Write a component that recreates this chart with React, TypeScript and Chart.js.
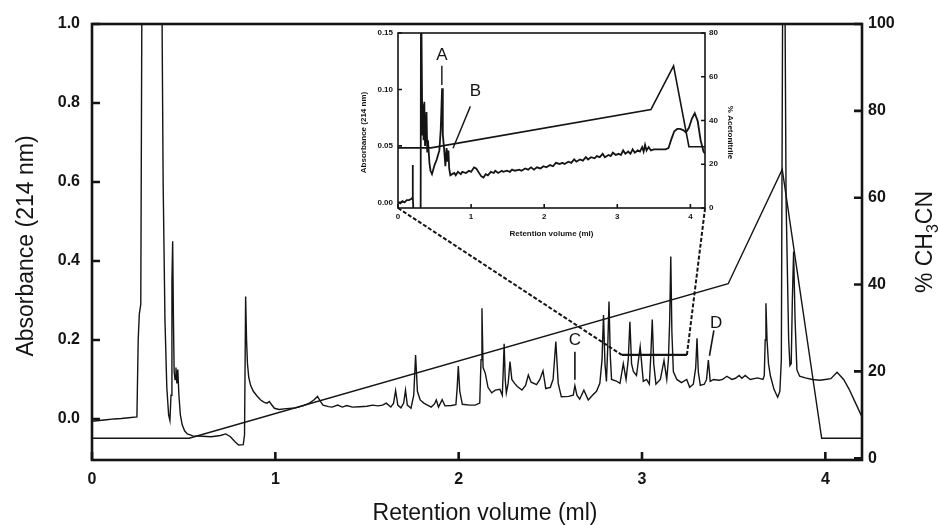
import React, { useEffect, useRef } from 'react';
import { Chart, registerables } from 'chart.js';

Chart.register(...registerables);

type Pt = [number, number];

// ---------- main chromatogram (retention ml, absorbance 214 nm) ----------
const mainTrace: Pt[] = [
  [0.0, -0.006], [0.04, -0.004], [0.08, -0.002], [0.12, 0.0], [0.16, 0.001], [0.2, 0.003], [0.245, 0.005],
  [0.252, 0.2], [0.258, 0.265], [0.266, 0.29], [0.274, 1.3], [0.378, 1.3],
  [0.388, 0.6], [0.398, 0.25], [0.408, 0.08], [0.418, 0.01], [0.425, -0.004], [0.431, 0.06], [0.436, 0.35],
  [0.44, 0.45], [0.444, 0.26], [0.448, 0.12], [0.453, 0.1], [0.458, 0.13], [0.463, 0.09], [0.468, 0.125],
  [0.474, 0.06], [0.482, 0.01], [0.492, -0.015], [0.505, -0.03], [0.52, -0.038], [0.55, -0.043], [0.6, -0.044],
  [0.65, -0.045], [0.7, -0.042], [0.73, -0.038], [0.755, -0.045], [0.78, -0.058], [0.8, -0.066], [0.825, -0.065],
  [0.832, -0.04], [0.838, 0.31], [0.843, 0.2], [0.848, 0.14], [0.855, 0.105], [0.865, 0.085], [0.88, 0.07],
  [0.9, 0.058], [0.92, 0.048], [0.94, 0.042], [0.955, 0.04], [0.967, 0.044], [0.98, 0.036], [0.995, 0.027],
  [1.02, 0.024], [1.06, 0.026], [1.11, 0.028], [1.15, 0.033], [1.186, 0.04], [1.21, 0.048], [1.23, 0.057],
  [1.245, 0.045], [1.26, 0.035], [1.29, 0.031], [1.31, 0.03], [1.34, 0.035], [1.365, 0.03], [1.39, 0.034],
  [1.42, 0.03], [1.46, 0.031], [1.5, 0.032], [1.53, 0.035], [1.56, 0.033], [1.585, 0.035], [1.605, 0.04],
  [1.63, 0.03], [1.645, 0.04], [1.656, 0.072], [1.668, 0.035], [1.685, 0.028], [1.7, 0.04], [1.71, 0.073],
  [1.72, 0.035], [1.74, 0.027], [1.755, 0.06], [1.765, 0.162], [1.775, 0.07], [1.79, 0.048], [1.81, 0.04],
  [1.85, 0.03], [1.868, 0.038], [1.878, 0.048], [1.89, 0.03], [1.91, 0.049], [1.925, 0.033], [1.96, 0.034],
  [1.985, 0.036], [1.992, 0.08], [1.998, 0.134], [2.006, 0.07], [2.02, 0.037], [2.06, 0.035], [2.09, 0.035],
  [2.115, 0.04], [2.122, 0.15], [2.127, 0.28], [2.133, 0.13], [2.145, 0.116], [2.16, 0.08], [2.18, 0.066],
  [2.2, 0.073], [2.225, 0.075], [2.238, 0.06], [2.243, 0.12], [2.248, 0.19], [2.254, 0.1], [2.26, 0.066],
  [2.27, 0.09], [2.28, 0.145], [2.29, 0.1], [2.305, 0.09], [2.32, 0.082], [2.345, 0.073], [2.365, 0.085],
  [2.38, 0.111], [2.395, 0.093], [2.425, 0.087], [2.443, 0.1], [2.46, 0.122], [2.475, 0.077], [2.5, 0.08],
  [2.515, 0.1], [2.53, 0.196], [2.543, 0.09], [2.56, 0.056], [2.6, 0.057], [2.625, 0.06], [2.634, 0.084],
  [2.645, 0.06], [2.66, 0.05], [2.683, 0.073], [2.707, 0.048], [2.73, 0.06], [2.752, 0.07], [2.77, 0.09],
  [2.782, 0.15], [2.79, 0.263], [2.798, 0.14], [2.806, 0.095], [2.813, 0.18], [2.82, 0.297], [2.827, 0.16],
  [2.834, 0.1], [2.86, 0.096], [2.88, 0.09], [2.898, 0.14], [2.913, 0.1], [2.925, 0.15], [2.934, 0.246],
  [2.943, 0.14], [2.953, 0.12], [2.97, 0.11], [2.99, 0.183], [3.007, 0.095], [3.025, 0.1], [3.04, 0.088],
  [3.048, 0.16], [3.056, 0.252], [3.064, 0.14], [3.076, 0.088], [3.1, 0.1], [3.12, 0.148], [3.135, 0.1],
  [3.144, 0.15], [3.151, 0.25], [3.157, 0.411], [3.163, 0.22], [3.171, 0.12], [3.19, 0.1], [3.215, 0.092],
  [3.244, 0.1], [3.26, 0.08], [3.28, 0.088], [3.293, 0.13], [3.3, 0.204], [3.307, 0.12], [3.318, 0.085],
  [3.34, 0.088], [3.352, 0.1], [3.362, 0.149], [3.372, 0.095], [3.39, 0.1], [3.42, 0.098], [3.44, 0.1],
  [3.463, 0.108], [3.49, 0.1], [3.51, 0.103], [3.53, 0.11], [3.545, 0.103], [3.563, 0.11], [3.59, 0.1],
  [3.63, 0.104], [3.66, 0.1], [3.667, 0.11], [3.672, 0.2], [3.676, 0.293], [3.682, 0.2], [3.69, 0.14],
  [3.7, 0.11], [3.72, 0.075], [3.74, 0.055], [3.752, 0.07], [3.76, 0.15], [3.769, 1.3], [3.777, 1.3],
  [3.786, 0.55], [3.8, 0.2], [3.807, 0.135], [3.814, 0.14], [3.82, 0.3], [3.827, 0.424], [3.835, 0.25],
  [3.845, 0.124], [3.86, 0.108], [3.89, 0.104], [3.93, 0.1], [3.97, 0.098], [4.0, 0.1], [4.03, 0.102],
  [4.064, 0.118], [4.1, 0.1], [4.13, 0.075], [4.16, 0.045], [4.2, 0.005],
];

// ---------- main gradient (% CH3CN) ----------
const mainGradient: Pt[] = [
  [0, 4.6], [0.53, 4.6], [3.47, 40.2], [3.765, 66.5], [3.98, 4.6], [4.2, 4.6],
];

// ---------- zoom window marks on the main chart ----------
const zoomWindow: Pt[] = [[2.89, 0.162], [3.245, 0.162]];
const zoomLinkLeft: Pt[] = [[1.669, 0.534], [2.89, 0.162]];
const zoomLinkRight: Pt[] = [[3.344, 0.534], [3.245, 0.162]];
const leaderC: Pt[] = [[2.634, 0.17], [2.634, 0.099]];
const leaderD: Pt[] = [[3.392, 0.224], [3.368, 0.16]];

const mainXTicks = [0, 1, 2, 3, 4];
const mainYTicks = [0, 0.2, 0.4, 0.6, 0.8, 1.0];
const mainY1Ticks = [0, 20, 40, 60, 80, 100];

// ---------- inset chromatogram ----------
const insetTrace: Pt[] = [
  [0.0, 0.0], [0.03, -0.001], [0.06, 0.001], [0.09, 0.0], [0.12, 0.002], [0.15, 0.002], [0.18, 0.003],
  [0.195, 0.004], [0.2, 0.033], [0.205, 0.005], [0.21, -0.006], [0.31, -0.006], [0.315, 0.2], [0.325, 0.2],
  [0.333, 0.06], [0.342, 0.087], [0.35, 0.055], [0.36, 0.089], [0.37, 0.05], [0.39, 0.08], [0.4, 0.045],
  [0.41, 0.055], [0.43, 0.035], [0.445, 0.028], [0.465, 0.025], [0.5, 0.033], [0.53, 0.038], [0.566, 0.046],
  [0.585, 0.065], [0.603, 0.101], [0.613, 0.06], [0.63, 0.048], [0.648, 0.032], [0.665, 0.048], [0.678, 0.036],
  [0.69, 0.046], [0.7, 0.03], [0.716, 0.024], [0.74, 0.025], [0.77, 0.026], [0.79, 0.024], [0.82, 0.027],
  [0.86, 0.025], [0.88, 0.027], [0.93, 0.026], [0.97, 0.028], [1.0, 0.027], [1.04, 0.031], [1.07, 0.03],
  [1.1, 0.027], [1.14, 0.023], [1.17, 0.022], [1.2, 0.025], [1.23, 0.024], [1.27, 0.027], [1.31, 0.026],
  [1.33, 0.028], [1.37, 0.026], [1.42, 0.028], [1.44, 0.027], [1.49, 0.028], [1.53, 0.027], [1.56, 0.029],
  [1.6, 0.028], [1.66, 0.029], [1.69, 0.028], [1.74, 0.03], [1.78, 0.029], [1.82, 0.031], [1.86, 0.029],
  [1.9, 0.031], [1.95, 0.03], [1.99, 0.032], [2.03, 0.031], [2.08, 0.033], [2.12, 0.032], [2.16, 0.035],
  [2.21, 0.034], [2.25, 0.035], [2.28, 0.034], [2.33, 0.036], [2.37, 0.035], [2.41, 0.038], [2.44, 0.036],
  [2.49, 0.038], [2.53, 0.037], [2.57, 0.04], [2.6, 0.038], [2.64, 0.04], [2.69, 0.039], [2.72, 0.041],
  [2.76, 0.04], [2.8, 0.043], [2.83, 0.04], [2.88, 0.042], [2.91, 0.041], [2.94, 0.044], [2.98, 0.042],
  [3.02, 0.043], [3.05, 0.042], [3.08, 0.046], [3.11, 0.043], [3.15, 0.045], [3.18, 0.043], [3.21, 0.047],
  [3.24, 0.044], [3.28, 0.046], [3.31, 0.045], [3.34, 0.049], [3.36, 0.045], [3.38, 0.051], [3.4, 0.046],
  [3.43, 0.049], [3.46, 0.046], [3.5, 0.047], [3.55, 0.047], [3.6, 0.047], [3.66, 0.047], [3.7, 0.048],
  [3.74, 0.056], [3.78, 0.063], [3.82, 0.065], [3.86, 0.065], [3.9, 0.064], [3.94, 0.062], [3.98, 0.066],
  [4.02, 0.074], [4.06, 0.079], [4.1, 0.072], [4.14, 0.055], [4.18, 0.045], [4.2, 0.043],
];

// ---------- inset gradient (% Acetonitrile) ----------
const insetGradient: Pt[] = [
  [0, 27.5], [0.45, 27.5], [3.46, 45], [3.77, 65], [3.98, 28], [4.2, 28],
];

const leaderA: Pt[] = [[0.6, 0.121], [0.6, 0.104]];
const leaderB: Pt[] = [[0.99, 0.085], [0.753, 0.048]];

const insetXTicks = [0, 1, 2, 3, 4];
const insetYTicks = [0, 0.05, 0.1, 0.15];
const insetY1Ticks = [0, 20, 40, 60, 80];

const FAMILY = "'Liberation Sans', Arial, Helvetica, sans-serif";
const INK = '#141414';

const toXY = (pts: Pt[]) => pts.map(([x, y]) => ({ x, y }));
const fixedTicks = (values: number[]) => (scale: any) => {
  scale.ticks = values.map((v) => ({ value: v }));
};

const frameTicksPlugin = {
  id: 'frameTicks',
  afterDatasetsDraw(chart: any, _args: any, opts: any) {
    const { ctx, chartArea: a } = chart;
    ctx.save();
    ctx.strokeStyle = INK;
    ctx.lineWidth = opts.frameWidth;
    ctx.strokeRect(a.left, a.top, a.right - a.left, a.bottom - a.top);
    ctx.lineWidth = opts.tickWidth;
    const len = opts.tickLength;
    ctx.beginPath();
    Object.keys(chart.scales).forEach((id) => {
      const s = chart.scales[id];
      s.ticks.forEach((t: any) => {
        const p = s.getPixelForValue(t.value);
        if (s.position === 'bottom') {
          ctx.moveTo(p, a.bottom);
          ctx.lineTo(p, a.bottom - len);
        } else if (s.position === 'left') {
          ctx.moveTo(a.left, p);
          ctx.lineTo(a.left + len, p);
        } else if (s.position === 'right') {
          ctx.moveTo(a.right, p);
          ctx.lineTo(a.right - len, p);
        }
      });
    });
    ctx.stroke();
    ctx.restore();
  },
};

const textPlugin = {
  id: 'textMarks',
  afterDraw(chart: any, _args: any, opts: any) {
    const { ctx, chartArea: a } = chart;
    ctx.save();
    ctx.fillStyle = INK;
    (opts.labels || []).forEach((l: any) => {
      ctx.font = l.font;
      ctx.textAlign = 'center';
      ctx.textBaseline = 'middle';
      ctx.fillText(l.text, chart.scales.x.getPixelForValue(l.x), chart.scales.y.getPixelForValue(l.y));
    });
    (opts.titles || []).forEach((t: any) => {
      let x = 0;
      let y = 0;
      if (t.anchor === 'bottom') {
        x = (a.left + a.right) / 2 + t.dx;
        y = a.bottom + t.dy;
      } else if (t.anchor === 'left') {
        x = a.left + t.dx;
        y = (a.top + a.bottom) / 2 + t.dy;
      } else {
        x = a.right + t.dx;
        y = (a.top + a.bottom) / 2 + t.dy;
      }
      ctx.save();
      ctx.translate(x, y);
      ctx.rotate((t.rotation * Math.PI) / 180);
      ctx.textBaseline = 'alphabetic';
      ctx.textAlign = 'left';
      ctx.font = t.font;
      const w1 = ctx.measureText(t.text).width;
      let w2 = 0;
      let w3 = 0;
      if (t.sub) {
        ctx.font = t.subFont;
        w2 = ctx.measureText(t.sub).width;
        ctx.font = t.font;
        w3 = ctx.measureText(t.tail).width;
      }
      const start = -(w1 + w2 + w3) / 2;
      ctx.fillText(t.text, start, 0);
      if (t.sub) {
        ctx.font = t.subFont;
        ctx.fillText(t.sub, start + w1, t.subShift);
        ctx.font = t.font;
        ctx.fillText(t.tail, start + w1 + w2, 0);
      }
      ctx.restore();
    });
    ctx.restore();
  },
};

const lineDs = (pts: Pt[], width: number, axis = 'y', dash: number[] = []) => ({
  data: toXY(pts),
  yAxisID: axis,
  borderColor: INK,
  borderWidth: width,
  borderDash: dash,
  pointRadius: 0,
  tension: 0,
  fill: false,
});

const tickFont = { family: FAMILY, size: 16, weight: 'bold' as const };
const insetTickFont = { family: FAMILY, size: 8, weight: 'bold' as const };

export default function App() {
  const mainRef = useRef<HTMLCanvasElement>(null);
  const insetRef = useRef<HTMLCanvasElement>(null);

  useEffect(() => {
    const main = new Chart(mainRef.current as HTMLCanvasElement, {
      type: 'line',
      data: {
        datasets: [
          lineDs(mainTrace, 1.4),
          lineDs(mainGradient, 1.4, 'y1'),
          lineDs(zoomWindow, 2.2),
          lineDs(zoomLinkLeft, 2, 'y', [4, 2]),
          lineDs(zoomLinkRight, 2, 'y', [4, 2]),
          lineDs(leaderC, 1.6),
          lineDs(leaderD, 1.6),
        ] as any,
      },
      plugins: [frameTicksPlugin, textPlugin] as any,
      options: {
        animation: false,
        responsive: false,
        devicePixelRatio: 1,
        layout: { padding: { top: 24, left: 0, right: 0, bottom: 0 } },
        plugins: {
          legend: { display: false },
          tooltip: { enabled: false },
          frameTicks: { frameWidth: 2.6, tickWidth: 2.6, tickLength: 8 },
          textMarks: {
            labels: [
              { text: 'C', x: 2.634, y: 0.2, font: `17px ${FAMILY}` },
              { text: 'D', x: 3.405, y: 0.243, font: `17px ${FAMILY}` },
            ],
            titles: [
              { text: 'Retention volume (ml)', anchor: 'bottom', dx: 8, dy: 60, rotation: 0, font: `23px ${FAMILY}` },
              { text: 'Absorbance (214 nm)', anchor: 'left', dx: -59, dy: 4, rotation: -90, font: `23px ${FAMILY}` },
              {
                text: '% CH', sub: '3', tail: 'CN', subShift: 6, anchor: 'right', dx: 70, dy: 0, rotation: -90,
                font: `23px ${FAMILY}`, subFont: `16px ${FAMILY}`,
              },
            ],
          },
        } as any,
        scales: {
          x: {
            type: 'linear',
            min: 0,
            max: 4.2,
            afterBuildTicks: fixedTicks(mainXTicks),
            afterFit: (s: any) => { s.height = 65; },
            grid: { display: false, drawTicks: false },
            border: { display: false },
            ticks: { padding: 10, color: INK, font: tickFont, callback: (v: any) => String(v) },
          },
          y: {
            type: 'linear',
            position: 'left',
            min: -0.104,
            max: 1.0,
            afterBuildTicks: fixedTicks(mainYTicks),
            afterFit: (s: any) => { s.width = 92; },
            grid: { display: false, drawTicks: false },
            border: { display: false },
            ticks: { padding: 12, color: INK, font: tickFont, callback: (v: any) => Number(v).toFixed(1) },
          },
          y1: {
            type: 'linear',
            position: 'right',
            min: -0.4,
            max: 100,
            afterBuildTicks: fixedTicks(mainY1Ticks),
            afterFit: (s: any) => { s.width = 78; },
            grid: { display: false, drawTicks: false },
            border: { display: false },
            ticks: { padding: 6, color: INK, font: tickFont, callback: (v: any) => String(v) },
          },
        } as any,
      },
    });

    const inset = new Chart(insetRef.current as HTMLCanvasElement, {
      type: 'line',
      data: {
        datasets: [
          lineDs(insetTrace, 1.8),
          lineDs(insetGradient, 1.6, 'y1'),
          lineDs(leaderA, 1.4),
          lineDs(leaderB, 1.4),
        ] as any,
      },
      plugins: [frameTicksPlugin, textPlugin] as any,
      options: {
        animation: false,
        responsive: false,
        devicePixelRatio: 1,
        layout: { padding: { top: 13, left: 0, right: 0, bottom: 0 } },
        plugins: {
          legend: { display: false },
          tooltip: { enabled: false },
          frameTicks: { frameWidth: 1.6, tickWidth: 1.6, tickLength: 4 },
          textMarks: {
            labels: [
              { text: 'A', x: 0.6, y: 0.13, font: `17px ${FAMILY}` },
              { text: 'B', x: 1.06, y: 0.098, font: `17px ${FAMILY}` },
            ],
            titles: [
              { text: 'Retention volume (ml)', anchor: 'bottom', dx: 0, dy: 28, rotation: 0, font: `bold 8px ${FAMILY}` },
              { text: 'Absorbance (214 nm)', anchor: 'left', dx: -32, dy: 12, rotation: -90, font: `bold 8px ${FAMILY}` },
              { text: '% Acetonitrile', anchor: 'right', dx: 23, dy: 12, rotation: 90, font: `bold 8px ${FAMILY}` },
            ],
          },
        } as any,
        scales: {
          x: {
            type: 'linear',
            min: 0,
            max: 4.2,
            afterBuildTicks: fixedTicks(insetXTicks),
            afterFit: (s: any) => { s.height = 42; },
            grid: { display: false, drawTicks: false },
            border: { display: false },
            ticks: { padding: 4, color: INK, font: insetTickFont, callback: (v: any) => String(v) },
          },
          y: {
            type: 'linear',
            position: 'left',
            min: -0.005,
            max: 0.15,
            afterBuildTicks: fixedTicks(insetYTicks),
            afterFit: (s: any) => { s.width = 58; },
            grid: { display: false, drawTicks: false },
            border: { display: false },
            ticks: { padding: 5, color: INK, font: insetTickFont, callback: (v: any) => Number(v).toFixed(2) },
          },
          y1: {
            type: 'linear',
            position: 'right',
            min: 0,
            max: 80,
            afterBuildTicks: fixedTicks(insetY1Ticks),
            afterFit: (s: any) => { s.width = 55; },
            grid: { display: false, drawTicks: false },
            border: { display: false },
            ticks: { padding: 4, color: INK, font: insetTickFont, callback: (v: any) => String(v) },
          },
        } as any,
      },
    });

    return () => {
      main.destroy();
      inset.destroy();
    };
  }, []);

  return (
    <div style={{ position: 'absolute', left: 0, top: 0, width: 940, height: 525, background: '#fff' }}>
      <canvas ref={mainRef} width={940} height={525} style={{ position: 'absolute', left: 0, top: 0 }} />
      <canvas ref={insetRef} width={420} height={230} style={{ position: 'absolute', left: 340, top: 20 }} />
    </div>
  );
}
